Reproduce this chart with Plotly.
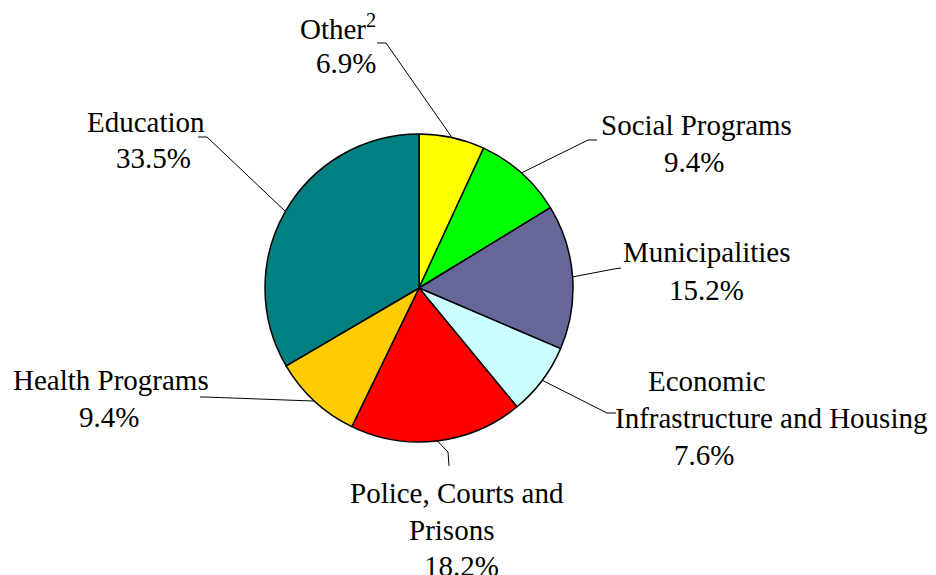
import math
import plotly.graph_objects as go

# ---- data ----
categories = ["Other", "Social Programs", "Municipalities",
              "Economic Infrastructure and Housing", "Police, Courts and Prisons",
              "Health Programs", "Education"]
shares = [6.9, 9.4, 15.2, 7.6, 18.2, 9.4, 33.5]
colors = ["#FFFF00", "#00FF00", "#666699", "#CCFFFF", "#FF0000", "#FFCC00", "#008080"]
label_lines = [
    ["Other<sup>2</sup>", "6.9%"],
    ["Social Programs", "9.4%"],
    ["Municipalities", "15.2%"],
    ["Economic", "Infrastructure and Housing", "7.6%"],
    ["Police, Courts and", "Prisons", "18.2%"],
    ["Health Programs", "9.4%"],
    ["Education", "33.5%"],
]

# ---- layout (pixels) ----
W, H = 936, 575
CX, CY, R = 419, 288, 154
FS = 29
FONT = "Liberation Serif"

# per-line label centres (x) and baselines (y)
label_pos = [
    [(338, 37), (346, 73)],
    [(696, 135), (694, 172)],
    [(707, 262), (706, 300)],
    [(707, 391), (771, 428), (704, 465)],
    [(457, 503), (451, 540), (461, 576)],
    [(111, 390), (109, 427)],
    [(146, 132), (153, 168)],
]
# leader line elbows (after the pie anchor)
leader_pts = [
    [(386, 43), (377, 43)],
    [(588, 140), (597, 140)],
    [(614, 269), (621, 268)],
    [(607, 413), (616, 413)],
    [(448, 452), (449, 466)],
    [(205, 397), (200, 397)],
    [(207, 137), (198, 137)],
]

def px(x):
    return x / W

def py(y):
    return 1 - y / H

fig = go.Figure(go.Pie(
    labels=categories,
    values=shares,
    sort=False,
    direction="clockwise",
    rotation=0,
    textinfo="none",
    hoverinfo="label+percent",
    marker=dict(colors=colors, line=dict(color="black", width=1.5)),
    domain=dict(x=[px(CX - R), px(CX + R)], y=[py(CY + R), py(CY - R)]),
    showlegend=False,
))

annotations = []
for lines, poss in zip(label_lines, label_pos):
    for txt, (x, y) in zip(lines, poss):
        annotations.append(dict(
            x=px(x), y=py(y - FS * 0.33), xref="paper", yref="paper",
            text=txt, showarrow=False, xanchor="center", yanchor="middle",
            font=dict(family=FONT, size=FS, color="black"),
        ))

shapes = []
total = sum(shares)
cum = 0.0
for v, pts in zip(shares, leader_pts):
    theta = 2 * math.pi * (cum + v / 2) / total
    cum += v
    ax = CX + R * math.sin(theta)
    ay = CY - R * math.cos(theta)
    path = f"M {px(ax)},{py(ay)}"
    for (x, y) in pts:
        path += f" L {px(x)},{py(y)}"
    shapes.append(dict(type="path", path=path, xref="paper", yref="paper",
                       line=dict(color="black", width=1)))

fig.update_layout(
    width=W, height=H,
    margin=dict(l=0, r=0, t=0, b=0),
    paper_bgcolor="white", plot_bgcolor="white",
    annotations=annotations,
    shapes=shapes,
)

fig.write_html("out.html")
